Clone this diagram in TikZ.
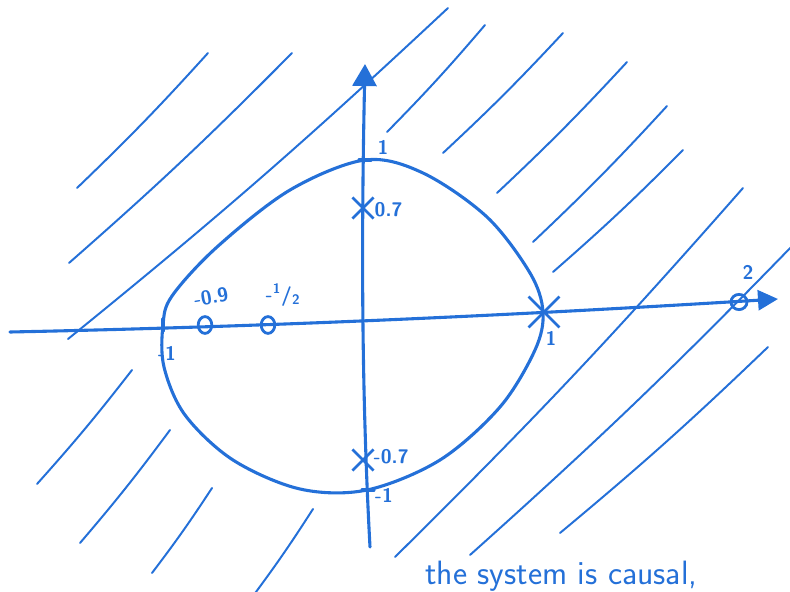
\documentclass[tikz,border=0pt]{standalone}
\usepackage{tikz}
\usetikzlibrary{arrows.meta,positioning,shapes.geometric,shapes.misc}
\definecolor{PenBlue}{HTML}{2470D8}

\begin{document}
\begin{tikzpicture}[x=0.025cm,y=-0.025cm,
    pen/.style={PenBlue,line width=2.2pt,line cap=round,line join=round},
    hatch/.style={PenBlue,line width=1.4pt,line cap=round},
    pole/.style={cross out,draw=PenBlue,line width=2pt,minimum size=4.6mm,inner sep=0pt},
    zero/.style={ellipse,draw=PenBlue,line width=2pt,minimum width=3.4mm,minimum height=4.2mm,inner sep=0pt},
    lbl/.style={text=PenBlue,font=\fontsize{14}{14}\sffamily\bfseries,inner sep=1pt},
  ]
  \useasboundingbox (0,0) rectangle (790,592);
  % hatching outside the unit circle
  \foreach \xa/\ya/\xb/\yb in {77/188/208/53, 69/263/292/53, 68/339/448/8,
      387/132/485/25, 443/153/563/33, 497/193/627/62, 533/242/667/106,
      553/272/683/150, 395/557/743/188, 470/555/796/242, 560/533/768/347,
      37/484/132/370, 80/543/170/430, 152/573/212/488, 250/600/313/509} {
    \draw[hatch] (\xa,\ya) to[bend right=2] (\xb,\yb);
  }
  % axes
  \coordinate (xl) at (10,332);
  \coordinate (xr) at (778,299);
  \coordinate (yb) at (370,547);
  \coordinate (yt) at (365,64);
  \draw[pen,-{Triangle[length=5mm,width=5mm]}] (xl) .. controls (300,326) and (550,313) .. (xr);
  \draw[pen,-{Triangle[length=5.5mm,width=6mm]}] (yb) .. controls (362,400) and (361,250) .. (yt);
  % unit circle
  \draw[pen] plot[smooth cycle,tension=0.55] coordinates {
    (163,325) (172,296) (217,247) (290,190) (365,160) (423,173) (487,217)
    (530,273) (543,312) (535,350) (500,407) (440,460) (367,490) (300,489)
    (233,460) (185,415) (164,367)};
  % unit marks
  \draw[pen] (163,319) -- (163,331);
  \draw[pen] (359,160) -- (371,160);
  \draw[pen] (362,490) -- (374,490);
  % poles
  \node[pole] (p1) at (363,208) {};
  \node[pole] (p2) at (363,460) {};
  \node[pole,minimum size=7mm] (p3) at (544,312) {};
  % zeros
  \node[zero] (z1) at (205,325) {};
  \node[zero] (z2) at (268,325) {};
  \node[zero,minimum width=4mm,minimum height=3.8mm] (z3) at (739,302) {};
  % labels
  \node[lbl] (lt) at (383,147) {1};
  \node[lbl,anchor=west] (lp1) at (373,210) {0.7};
  \node[lbl,anchor=west] (lp2) at (372,457) {-0.7};
  \node[lbl] (lb) at (384,495) {-1};
  \node[lbl] (ll) at (167,353) {-1};
  \node[lbl,rotate=10] (lz1) at (211,297) {-0.9};
  \node[lbl] (lz2) at (283,295) {-\textsuperscript{1}/\textsubscript{2}};
  \node[lbl] (lr) at (551,338) {1};
  \node[lbl] (lz3) at (748,272) {2};
  % note at the foot
  \node[text=PenBlue,font=\fontsize{24}{24}\sffamily,anchor=base west,inner sep=0pt] (note) at (425,584) {the system is causal,};
\end{tikzpicture}
\end{document}
